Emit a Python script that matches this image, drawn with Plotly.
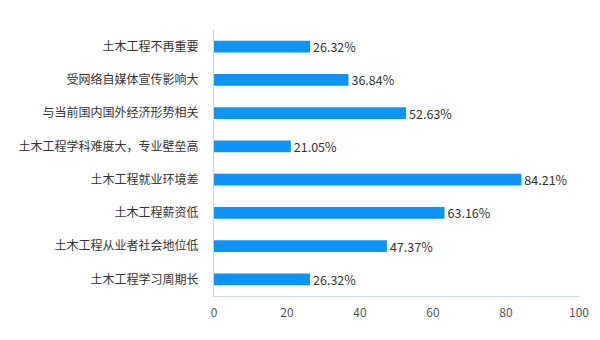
import plotly.graph_objects as go

categories = ["土木工程不再重要", "受网络自媒体宣传影响大", "与当前国内国外经济形势相关",
              "土木工程学科难度大，专业壁垒高", "土木工程就业环境差", "土木工程薪资低",
              "土木工程从业者社会地位低", "土木工程学习周期长"]
values = [26.32, 36.84, 52.63, 21.05, 84.21, 63.16, 47.37, 26.32]
labels = [f"{v:.2f}%" for v in values]
x_ticks = [0, 20, 40, 60, 80, 100]

fig = go.Figure(go.Bar(
    y=categories, x=values, orientation="h",
    marker=dict(color="#0d94fa", line=dict(width=0)),
    width=0.36,
    text=labels, textposition="outside", cliponaxis=False, constraintext="none",
    textfont=dict(size=12.5, color="#333333"),
))
fig.update_layout(
    width=600, height=340,
    margin=dict(l=214, r=21, t=30, b=44),
    paper_bgcolor="white", plot_bgcolor="white",
    font=dict(family="Noto Sans CJK SC", size=12, color="#333333"),
    showlegend=False,
)
fig.update_xaxes(range=[0, 100], tickvals=x_ticks, showgrid=False, zeroline=False,
                 showline=True, linecolor="#c8d6ea", linewidth=1,
                 ticks="outside", ticklen=6, tickcolor="rgba(0,0,0,0)",
                 tickfont=dict(size=12, color="#555555"))
fig.update_yaxes(categoryorder="array", categoryarray=categories, autorange="reversed",
                 showgrid=False, zeroline=False, showline=True, linecolor="#c8d6ea",
                 linewidth=1, ticks="outside", ticklen=12, tickcolor="rgba(0,0,0,0)",
                 tickfont=dict(size=12, color="#333333"))
fig.write_html("out.html")
